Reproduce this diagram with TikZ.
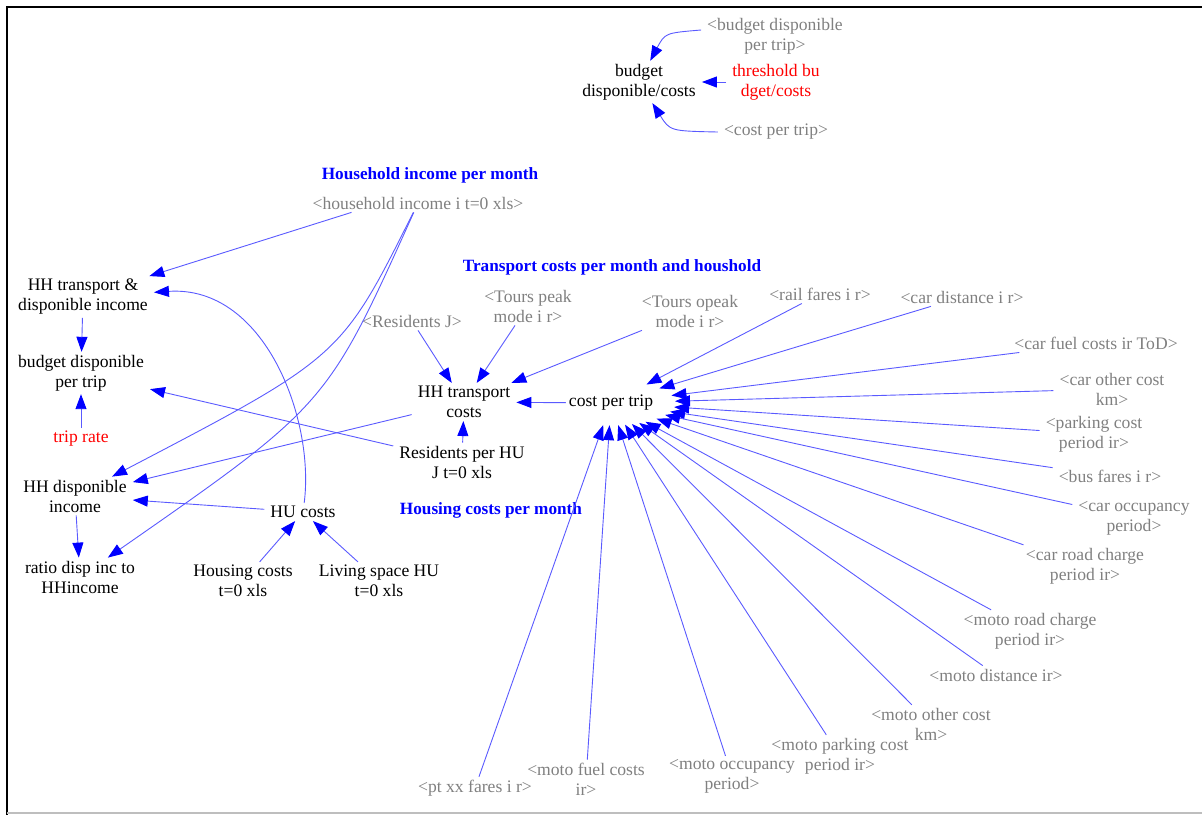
\documentclass[tikz,border=0pt]{standalone}
\usepackage{fontspec}
\setmainfont{Liberation Serif}
\usetikzlibrary{arrows.meta,shapes.geometric}
\definecolor{linkblue}{RGB}{90,90,255}
\definecolor{tipblue}{RGB}{0,0,255}
\definecolor{shadowgray}{RGB}{128,128,128}
\definecolor{framegray}{RGB}{190,190,190}
\begin{document}
\begin{tikzpicture}[x=1pt,y=-1pt,
  var/.style={align=center, inner xsep=6pt, inner ysep=3pt,
    font=\fontsize{17.6}{20}\selectfont},
  shadow/.style={var, text=shadowgray},
  const/.style={var, text=red},
  viewtitle/.style={font=\fontsize{17.2}{20}\selectfont\bfseries, text=tipblue},
  link/.style={draw=linkblue, line width=0.9pt,
    -{Triangle[length=15pt,width=11pt,color=tipblue]}},
]
\useasboundingbox (0,0) rectangle (1202,815);

% frame
\draw[line width=2.4pt] (6,7) -- (1202,7);
\draw[line width=2.4pt] (7,6) -- (7,815);
\draw[framegray, line width=1.5pt] (7,813) -- (1202,813);

% budget check
\node[shadow] (bdpt) at (775,36) {<budget disponible\\per trip>};
\node[var] (bdc) at (639,82) {budget\\disponible/costs};
\node[const] (thr) at (776,82) {threshold bu\\dget/costs};
\node[shadow] (cpts) at (776,132) {<cost per trip>};

% view titles
\node[viewtitle] (t1) at (430,175) {Household income per month};
\node[viewtitle] (t2) at (612,267) {Transport costs per month and houshold};
\node[viewtitle] (t3) at (491,510) {Housing costs per month};

% household income
\node[shadow] (hhinc) at (418,203) {<household income i t=0 xls>};
\node[var] (hhtd) at (83,297) {HH transport \&\\disponible income};
\node[var] (bdt) at (81,373) {budget disponible\\per trip};
\node[const] (tr) at (81,439) {trip rate};
\node[var] (hhd) at (75,496) {HH disponible\\income};
\node[var] (ratio) at (80,577) {ratio disp inc to\\HHincome};

% housing
\node[var] (huc) at (303,512) {HU costs};
\node[var] (hc) at (243,581) {Housing costs\\t=0 xls};
\node[var] (ls) at (379,581) {Living space HU\\t=0 xls};

% transport
\node[shadow] (resj) at (412,321) {<Residents J>};
\node[shadow] (tpk) at (528,306) {<Tours peak\\mode i r>};
\node[shadow] (topk) at (690,311) {<Tours opeak\\mode i r>};
\node[var] (hhtc) at (464,402) {HH transport\\costs};
\node[var] (rphu) at (462,462) {Residents per HU\\J t=0 xls};
\node[var, ellipse, minimum width=128pt, minimum height=44pt, inner sep=0pt] (cpt) at (611,403) {cost per trip};

% cost inputs
\node[shadow] (rail) at (820,294) {<rail fares i r>};
\node[shadow] (cdist) at (962,297) {<car distance i r>};
\node[shadow] (cfuel) at (1096,343) {<car fuel costs ir ToD>};
\node[shadow] (cother) at (1112,389) {<car other cost\\km>};
\node[shadow] (park) at (1094,434) {<parking cost\\period ir>};
\node[shadow] (bus) at (1110,476) {<bus fares i r>};
\node[shadow] (cocc) at (1134,518) {<car occupancy\\period>};
\node[shadow] (croad) at (1085,566) {<car road charge\\period ir>};
\node[shadow] (mroad) at (1030,631) {<moto road charge\\period ir>};
\node[shadow] (mdist) at (996,675) {<moto distance ir>};
\node[shadow] (mother) at (931,724) {<moto other cost\\km>};
\node[shadow] (mpark) at (840,756) {<moto parking cost\\period ir>};
\node[shadow] (mocc) at (732,776) {<moto occupancy\\period>};
\node[shadow] (mfuel) at (586,779) {<moto fuel costs\\ir>};
\node[shadow] (ptx) at (475,788) {<pt xx fares i r>};

% links
\draw[link] ([yshift=6pt]bdpt.west) .. controls (665,33) .. (bdc);
\draw[link] (thr) -- (bdc);
\draw[link] (cpts.west) .. controls (670,131) .. (bdc);

\draw[link] ([xshift=45pt]hhinc.south west) -- (hhtd);
\draw[link] (hhinc) .. controls (341,357) .. (hhd);
\draw[link] (hhinc) .. controls (327,405) .. (ratio);
\draw[link] (huc) .. controls (315,420) and (265,285) .. (hhtd);
\draw[link] (hhtd) -- (bdt);
\draw[link] (tr) -- (bdt);
\draw[link] (rphu) -- (bdt);
\draw[link] (hhtc) -- (hhd);
\draw[link] (huc) -- (hhd);
\draw[link] (hhd) -- (ratio);
\draw[link] (hc) -- (huc);
\draw[link] (ls) -- (huc);

\draw[link] (resj) -- (hhtc);
\draw[link] (tpk) -- (hhtc);
\draw[link] (topk) -- (hhtc);
\draw[link, shorten <=-19pt] (cpt) -- (hhtc);
\draw[link] (rphu) -- (hhtc);

\foreach \src in {rail,cdist,cfuel,cother,park,bus,cocc,croad,mroad,mdist,mother,mpark,mocc,mfuel,ptx}
  \draw[link] (\src) -- (cpt);
\end{tikzpicture}
\end{document}
